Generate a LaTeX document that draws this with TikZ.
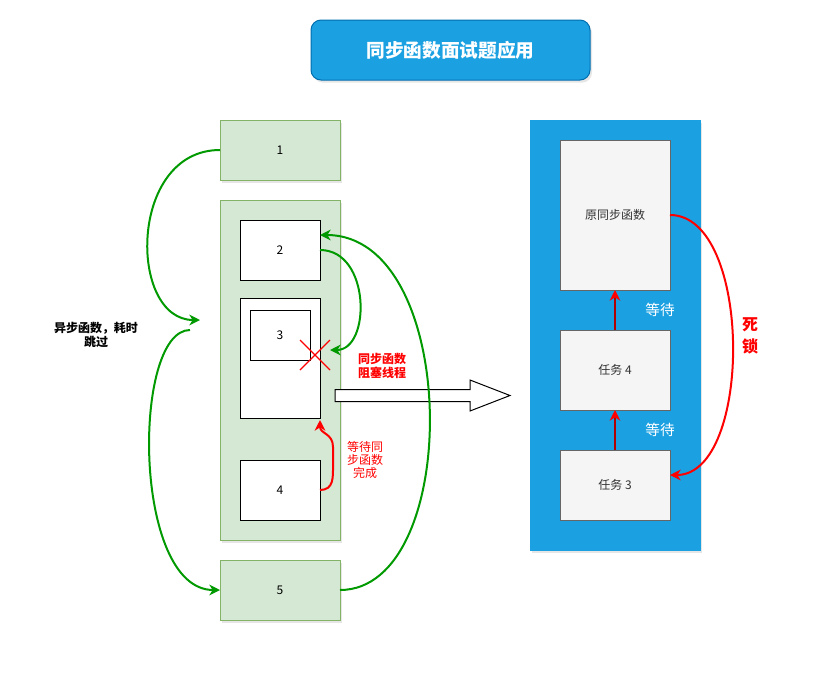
\documentclass[tikz,border=0pt]{standalone}
\usepackage{fontspec}
\setmainfont{Noto Sans CJK SC}
\usetikzlibrary{calc, arrows.meta, shadows}
\definecolor{gfill}{HTML}{D5E8D4}
\definecolor{gline}{HTML}{82B366}
\definecolor{arrgreen}{HTML}{009900}
\definecolor{panelblue}{HTML}{1BA1E2}
\definecolor{titleline}{HTML}{006EAF}
\definecolor{taskfill}{HTML}{F5F5F5}
\definecolor{taskline}{HTML}{666666}
\definecolor{waitred}{HTML}{B20000}

\begin{document}
\begin{tikzpicture}[x=0.75pt, y=-0.75pt,
    box/.style={draw, inner sep=0pt, outer sep=0pt, line width=0.75pt, font=\fontsize{9}{11}\selectfont},
    shady/.style={drop shadow={shadow xshift=1.5pt, shadow yshift=-2pt, opacity=0.2}},
    greenbox/.style={box, draw=gline, fill=gfill, shady},
    whitebox/.style={box, fill=white},
    task/.style={box, draw=taskline, fill=taskfill, text=black!80},
    flow/.style={draw=arrgreen, line width=1.5pt, -{Stealth[length=8pt, width=8pt, inset=2.5pt]}},
    block/.style={draw=red, line width=1.5pt, -{Stealth[length=8pt, width=8pt, inset=2.5pt]}},
    wait/.style={draw=waitred, line width=1.5pt, -{Stealth[red, length=8pt, width=8pt, inset=2.5pt]}},
    redlbl/.style={text=red, align=center, font=\fontsize{9}{10}\selectfont}]

    \useasboundingbox (0,0) rectangle (822,672);

    \node[rounded corners=7.5pt, fill=panelblue, draw=titleline, line width=0.75pt, shady,
          minimum width=209.25pt, minimum height=45pt, text=white,
          font=\bfseries\fontsize{14}{16}\selectfont] (title) at (450.5,50) {同步函数面试题应用};

    \node[greenbox, minimum width=90pt, minimum height=45pt] (b1) at (280,150) {1};
    \node[greenbox, minimum width=90pt, minimum height=255pt] (grp) at (280,370) {};
    \node[whitebox, minimum width=60pt, minimum height=45pt] (b2) at (280,250) {2};
    \node[whitebox, minimum width=60pt, minimum height=90pt] (b3o) at (280,358) {};
    \node[whitebox, minimum width=45pt, minimum height=37.5pt] (b3) at (280,335) {3};
    \node[whitebox, minimum width=60pt, minimum height=45pt] (b4) at (280,490) {4};
    \node[greenbox, minimum width=90pt, minimum height=45pt] (b5) at (280,590) {5};

    \draw[red, line width=0.9pt] (300,340) -- (330,370) (330,340) -- (300,370);

    \coordinate (skipin) at (200,320);
    \coordinate (skipout) at (190,330);
    \coordinate (blockin) at (330,350);

    \draw[fill=white, line width=0.75pt] (335,389.5) -- (470,389.5) -- (470,380) -- (510,395.5)
        -- (470,411) -- (470,401.5) -- (335,401.5) -- cycle;

    \draw[flow] (b1.west) .. controls +(-92,0) and +(-72,0) .. (skipin);
    \draw[flow] (skipout) .. controls +(-58,0) and +(-88,0) .. (b5.west);
    \draw[flow] (b2.east) .. controls +(51,0) and +(41,0) .. (blockin);
    \draw[flow] (b5.east) .. controls +(123,0) and +(141,0) .. ($(b2.north east)!0.25!(b2.south east)$);
    \draw[block] (b4.east) .. controls +(14,0) and +(0,12) .. ++(13,-25) -- ++(0,-18)
        .. controls +(0,-14) and +(0,14) .. ($(b3o.south east)+(0,2)$);

    \node[align=center, font=\bfseries\fontsize{9}{10}\selectfont] (skiplbl) at (96,335) {异步函数，耗时\\跳过};
    \node[redlbl, font=\bfseries\fontsize{9}{10}\selectfont] (blocklbl) at (382,366) {同步函数\\阻塞线程};
    \node[redlbl] (waitlbl) at (365,460) {等待同\\步函数\\完成};

    \node[box, draw=panelblue, fill=panelblue, shady, minimum width=127.5pt, minimum height=322.5pt] (panel) at (615,335) {};
    \node[task, minimum width=82.5pt, minimum height=112.5pt] (orig) at (615,215) {原同步函数};
    \node[task, minimum width=82.5pt, minimum height=60pt] (t4) at (615,370) {任务 4};
    \node[task, minimum width=82.5pt, minimum height=52.5pt] (t3) at (615,485) {任务 3};

    \draw[wait] (t4.north) -- (orig.south);
    \draw[wait] (t3.north) -- (t4.south);
    \node[text=white, font=\fontsize{11}{13}\selectfont] (wait1) at (660,310) {等待};
    \node[text=white, font=\fontsize{11}{13}\selectfont] (wait2) at (660,430) {等待};

    \draw[block] (orig.east) .. controls +(83,0) and +(83,0) .. ($(t3.east)+(0,-10)$);
    \node[text=red, align=center, font=\bfseries\fontsize{12}{17}\selectfont] (dead) at (750,336) {死\\锁};
\end{tikzpicture}
\end{document}
